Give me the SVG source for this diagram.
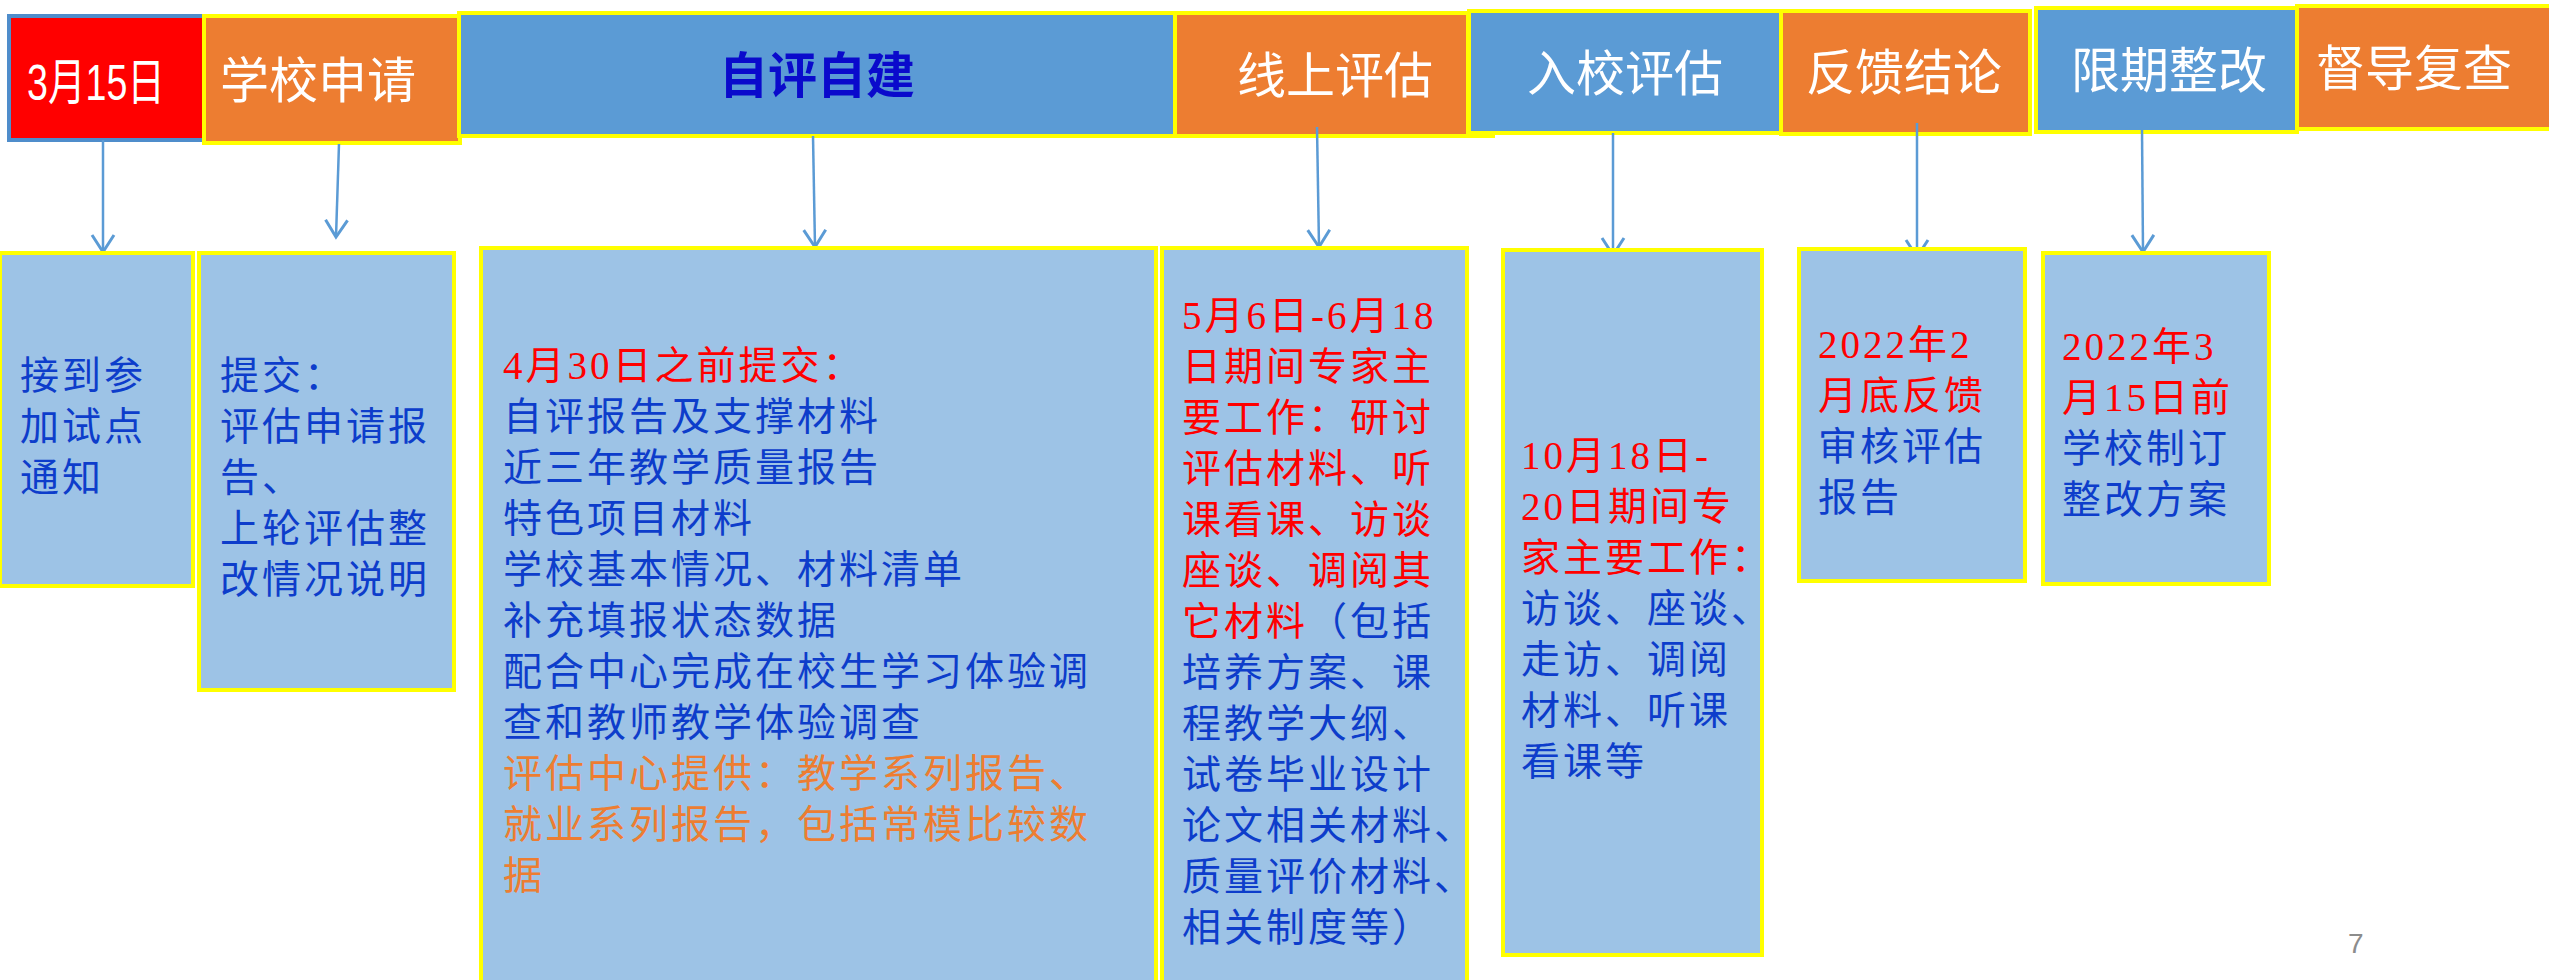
<svg xmlns="http://www.w3.org/2000/svg" width="2549" height="980" viewBox="0 0 2549 980">
<style>
.hdr{font-family:"Noto Sans CJK SC","Liberation Sans",sans-serif;font-size:49px;fill:#FFFFFF;text-anchor:middle}
.ttl{font-family:"Noto Sans CJK SC","Liberation Sans",sans-serif;font-size:49px;font-weight:bold;fill:#0A0ACC;text-anchor:middle}
.box{stroke:#FFFF00;stroke-width:4}
.or{fill:#ED7D31}
.bl{fill:#5B9BD5}
.lb{fill:#9DC3E6;stroke:#FFFF00;stroke-width:4}
.body{font-family:"Liberation Serif","Noto Sans CJK SC",serif;font-size:39px;letter-spacing:3px;fill:#0D3DCB}
.red{fill:#FF0000}
.org{fill:#ED7D31}
.conn{stroke:#5B9BD5;stroke-width:2.5;fill:none}
</style>
<defs>
<marker id="arr" markerUnits="userSpaceOnUse" viewBox="0 0 22 26" markerWidth="22" markerHeight="26" refX="19" refY="13" orient="auto">
<path d="M2,2 L19,13 L2,24" fill="none" stroke="#5B9BD5" stroke-width="3"/>
</marker>
</defs>
<rect width="2549" height="980" fill="#FFFFFF"/>

<g id="h1">
<rect x="9" y="16" width="195" height="124" fill="#FF0000" stroke="#4F8DCB" stroke-width="4"/>
<text x="27" y="100" font-family="'Liberation Sans','Noto Sans CJK SC',sans-serif" font-size="50" fill="#FFFFFF" textLength="138" lengthAdjust="spacingAndGlyphs">3月15日</text>
</g>
<g id="h2">
<rect class="box or" x="204" y="16" width="256" height="127"/>
<text class="hdr" x="318" y="98">学校申请</text>
</g>
<g id="h3">
<rect class="box bl" x="459" y="13" width="716" height="123"/>
<text class="ttl" x="817" y="93">自评自建</text>
</g>
<g id="h4">
<rect class="box or" x="1175" y="13" width="293" height="123"/>
<line x1="1468" y1="136" x2="1495" y2="136" stroke="#FFFF00" stroke-width="4"/>
<text class="hdr" x="1335" y="93">线上评估</text>
</g>
<g id="h5">
<rect class="box bl" x="1469" y="11" width="312" height="122"/>
<text class="hdr" x="1625" y="91">入校评估</text>
</g>
<g id="h6">
<rect class="box or" x="1781" y="11" width="249" height="123"/>
<text class="hdr" x="1904" y="90">反馈结论</text>
</g>
<g id="h7">
<rect class="box bl" x="2036" y="8" width="261" height="124"/>
<text class="hdr" x="2169" y="88">限期整改</text>
</g>
<g id="h8">
<rect class="box or" x="2297" y="6" width="262" height="123"/>
<text class="hdr" x="2414" y="86">督导复查</text>
</g>

<g id="connectors">
<line class="conn" x1="103" y1="140" x2="103" y2="252" marker-end="url(#arr)"/>
<line class="conn" x1="339" y1="144" x2="336" y2="237" marker-end="url(#arr)"/>
<line class="conn" x1="813" y1="136" x2="815" y2="247" marker-end="url(#arr)"/>
<line class="conn" x1="1317" y1="127" x2="1319" y2="247" marker-end="url(#arr)"/>
<line class="conn" x1="1613" y1="133" x2="1613" y2="255" marker-end="url(#arr)"/>
<line class="conn" x1="1917" y1="123" x2="1917" y2="257" marker-end="url(#arr)"/>
<line class="conn" x1="2142" y1="130" x2="2143" y2="252" marker-end="url(#arr)"/>
</g>

<g id="b1">
<rect class="lb" x="0" y="253" width="193" height="333"/>
<text class="body">
<tspan x="20" y="389">接到参</tspan>
<tspan x="20" y="440">加试点</tspan>
<tspan x="20" y="491">通知</tspan>
</text>
</g>
<g id="b2">
<rect class="lb" x="199" y="253" width="255" height="437"/>
<text class="body">
<tspan x="220" y="389">提交：</tspan>
<tspan x="220" y="440">评估申请报</tspan>
<tspan x="220" y="491">告、</tspan>
<tspan x="220" y="542">上轮评估整</tspan>
<tspan x="220" y="593">改情况说明</tspan>
</text>
</g>
<g id="b3">
<rect class="lb" x="481" y="248" width="675" height="740"/>
<text class="body">
<tspan class="red" x="503" y="379">4月30日之前提交：</tspan>
<tspan x="503" y="430">自评报告及支撑材料</tspan>
<tspan x="503" y="481">近三年教学质量报告</tspan>
<tspan x="503" y="532">特色项目材料</tspan>
<tspan x="503" y="583">学校基本情况、材料清单</tspan>
<tspan x="503" y="634">补充填报状态数据</tspan>
<tspan x="503" y="685">配合中心完成在校生学习体验调</tspan>
<tspan x="503" y="736">查和教师教学体验调查</tspan>
<tspan class="org" x="503" y="787">评估中心提供：教学系列报告、</tspan>
<tspan class="org" x="503" y="838">就业系列报告，包括常模比较数</tspan>
<tspan class="org" x="503" y="889">据</tspan>
</text>
</g>
<g id="b4">
<rect class="lb" x="1162" y="248" width="305" height="740"/>
<text class="body">
<tspan class="red" x="1182" y="329">5月6日-6月18</tspan>
<tspan class="red" x="1182" y="380">日期间专家主</tspan>
<tspan class="red" x="1182" y="431">要工作：研讨</tspan>
<tspan class="red" x="1182" y="482">评估材料、听</tspan>
<tspan class="red" x="1182" y="533">课看课、访谈</tspan>
<tspan class="red" x="1182" y="584">座谈、调阅其</tspan>
<tspan class="red" x="1182" y="635">它材料</tspan><tspan>（包括</tspan>
<tspan x="1182" y="686">培养方案、课</tspan>
<tspan x="1182" y="737">程教学大纲、</tspan>
<tspan x="1182" y="788">试卷毕业设计</tspan>
<tspan x="1182" y="839">论文相关材料、</tspan>
<tspan x="1182" y="890">质量评价材料、</tspan>
<tspan x="1182" y="941">相关制度等）</tspan>
</text>
</g>
<g id="b5">
<rect class="lb" x="1503" y="250" width="259" height="705"/>
<text class="body">
<tspan class="red" x="1521" y="469">10月18日-</tspan>
<tspan class="red" x="1521" y="520">20日期间专</tspan>
<tspan class="red" x="1521" y="571">家主要工作：</tspan>
<tspan x="1521" y="622">访谈、座谈、</tspan>
<tspan x="1521" y="673">走访、调阅</tspan>
<tspan x="1521" y="724">材料、听课</tspan>
<tspan x="1521" y="775">看课等</tspan>
</text>
</g>
<g id="b6">
<rect class="lb" x="1799" y="249" width="226" height="332"/>
<text class="body">
<tspan class="red" x="1818" y="358">2022年2</tspan>
<tspan class="red" x="1818" y="409">月底反馈</tspan>
<tspan x="1818" y="460">审核评估</tspan>
<tspan x="1818" y="511">报告</tspan>
</text>
</g>
<g id="b7">
<rect class="lb" x="2043" y="253" width="226" height="331"/>
<text class="body">
<tspan class="red" x="2062" y="360">2022年3</tspan>
<tspan class="red" x="2062" y="411">月15日前</tspan>
<tspan x="2062" y="462">学校制订</tspan>
<tspan x="2062" y="513">整改方案</tspan>
</text>
</g>

<text id="page" x="2348" y="953" font-family="'Liberation Sans',sans-serif" font-size="28" fill="#8C8C8C">7</text>
</svg>
